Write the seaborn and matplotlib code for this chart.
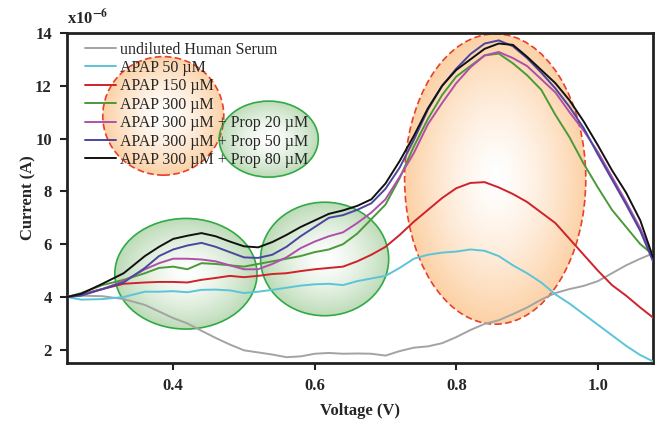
import numpy as np
import pandas as pd
import matplotlib
matplotlib.use("Agg")
import matplotlib.pyplot as plt
from matplotlib.patches import Ellipse
import seaborn as sns

# voltage grid (V)
voltage = [0.25, 0.27, 0.30, 0.33, 0.36, 0.38, 0.40, 0.42, 0.44, 0.46, 0.48,
           0.50, 0.52, 0.54, 0.56, 0.58, 0.60, 0.62, 0.64, 0.66, 0.68, 0.70,
           0.72, 0.74, 0.76, 0.78, 0.80, 0.82, 0.84, 0.86, 0.88, 0.90, 0.92,
           0.94, 0.96, 0.98, 1.00, 1.02, 1.04, 1.06, 1.078]

# currents, in units of 1e-6 A
serum = [4.0, 4.05, 4.03, 3.92, 3.7, 3.45, 3.2, 3.0, 2.72, 2.45, 2.2,
         1.98, 1.9, 1.82, 1.72, 1.75, 1.85, 1.88, 1.85, 1.86, 1.85, 1.78,
         1.95, 2.08, 2.13, 2.25, 2.48, 2.75, 2.98, 3.12, 3.35, 3.6, 3.9,
         4.15, 4.3, 4.42, 4.6, 4.9, 5.2, 5.45, 5.65]
apap50 = [4.0, 3.9, 3.92, 4.0, 4.2, 4.2, 4.22, 4.18, 4.27, 4.28, 4.25,
          4.15, 4.2, 4.27, 4.35, 4.43, 4.48, 4.5, 4.45, 4.6, 4.7, 4.8,
          5.1, 5.45, 5.6, 5.68, 5.72, 5.8, 5.75, 5.55, 5.2, 4.9, 4.55,
          4.1, 3.75, 3.35, 2.95, 2.55, 2.15, 1.8, 1.56]
apap150 = [4.0, 4.1, 4.3, 4.5, 4.55, 4.57, 4.57, 4.55, 4.65, 4.72, 4.8,
           4.75, 4.8, 4.87, 4.9, 4.98, 5.05, 5.1, 5.15, 5.35, 5.6, 5.9,
           6.35, 6.85, 7.3, 7.75, 8.12, 8.32, 8.35, 8.15, 7.9, 7.6, 7.2,
           6.8, 6.2, 5.6, 5.0, 4.45, 4.05, 3.6, 3.22]
apap300 = [4.0, 4.15, 4.45, 4.65, 4.9, 5.1, 5.15, 5.05, 5.28, 5.25, 5.2,
           5.15, 5.25, 5.35, 5.45, 5.55, 5.7, 5.8, 6.0, 6.4, 6.95, 7.5,
           8.5, 9.7, 10.75, 11.65, 12.35, 12.75, 13.15, 13.22, 12.85, 12.4, 11.85,
           10.9, 10.05, 9.05, 8.15, 7.3, 6.65, 6.0, 5.6]
prop20 = [4.0, 4.08, 4.3, 4.6, 5.05, 5.28, 5.45, 5.45, 5.42, 5.35, 5.2,
          5.05, 5.05, 5.25, 5.5, 5.85, 6.1, 6.3, 6.45, 6.8, 7.2, 7.7,
          8.55, 9.45, 10.55, 11.35, 12.1, 12.7, 13.15, 13.28, 13.05, 12.75, 12.25,
          11.75, 11.0, 10.3, 9.5, 8.55, 7.6, 6.6, 5.5]
prop50 = [4.0, 4.05, 4.3, 4.55, 5.1, 5.55, 5.8, 5.95, 6.05, 5.9, 5.7,
          5.5, 5.48, 5.6, 5.9, 6.3, 6.65, 7.0, 7.1, 7.3, 7.55, 8.1,
          8.9, 9.95, 11.1, 12.0, 12.65, 13.2, 13.6, 13.72, 13.5, 13.05, 12.5,
          11.9, 11.2, 10.4, 9.4, 8.45, 7.5, 6.5, 5.35]
prop80 = [4.0, 4.12, 4.5, 4.9, 5.55, 5.9, 6.2, 6.32, 6.42, 6.3, 6.1,
          5.92, 5.88, 6.08, 6.35, 6.65, 6.9, 7.15, 7.28, 7.45, 7.7, 8.3,
          9.15, 10.1, 11.15, 12.0, 12.6, 13.0, 13.4, 13.6, 13.55, 13.1, 12.6,
          12.1, 11.45, 10.65, 9.75, 8.8, 7.95, 6.9, 5.5]

labels = ["undiluted Human Serum", "APAP 50 µM", "APAP 150 µM", "APAP 300 µM",
          "APAP 300 µM + Prop 20 µM", "APAP 300 µM + Prop 50 µM",
          "APAP 300 µM + Prop 80 µM"]
series = [serum, apap50, apap150, apap300, prop20, prop50, prop80]
colors = ["#a3a3a3", "#5bc5d8", "#d0222a", "#4a9a3a", "#b04fab", "#4b46a0", "#111111"]

rows = []
for lab, vals in zip(labels, series):
    for v, c in zip(voltage, vals):
        rows.append({"Voltage": v, "Current": c, "Serie": lab})
df = pd.DataFrame(rows)

sns.set_theme(style="ticks")
plt.rcParams['font.family'] = ['Liberation Serif', 'DejaVu Serif']
plt.rcParams['mathtext.fontset'] = 'stix'


def gradient_ellipse(ax, cx, cy, w, h, edge_rgb, line_color, ls):
    ell = Ellipse((cx, cy), w, h, fc='none', ec=line_color, ls=ls, lw=1.2, zorder=2)
    ax.add_patch(ell)
    n = 200
    u = np.linspace(-1, 1, n)
    U, V = np.meshgrid(u, u)
    r = np.clip(np.sqrt(U ** 2 + V ** 2), 0, 1)
    t = (r ** 1.4)[..., None]
    img = (1 - t) * np.ones(3) + t * np.array(edge_rgb)
    im = ax.imshow(img, extent=(cx - w / 2, cx + w / 2, cy - h / 2, cy + h / 2),
                   origin='lower', aspect='auto', zorder=1, interpolation='bilinear')
    im.set_clip_path(ell)


fig = plt.figure(figsize=(6.65, 4.24), dpi=100)
ax = fig.add_axes([0.1008, 0.1439, 0.8812, 0.7783])

orange = (0.99, 0.82, 0.65)
green = (0.74, 0.86, 0.72)
# highlight regions
gradient_ellipse(ax, 0.386, 10.86, 0.171, 4.49, orange, "#e8402a", (0, (4, 2)))
gradient_ellipse(ax, 0.535, 9.98, 0.140, 2.88, green, "#2faa45", "-")
gradient_ellipse(ax, 0.418, 4.88, 0.201, 4.19, green, "#2faa45", "-")
gradient_ellipse(ax, 0.614, 5.44, 0.181, 4.30, green, "#2faa45", "-")
gradient_ellipse(ax, 0.855, 8.47, 0.256, 11.0, orange, "#e8402a", (0, (4, 2)))

sns.lineplot(data=df, x="Voltage", y="Current", hue="Serie", hue_order=labels,
             palette=colors, linewidth=1.4, ax=ax, zorder=3, legend=True)

ax.set_xlim(0.25, 1.078)
ax.set_ylim(1.5, 14)
ax.set_xticks([0.4, 0.6, 0.8, 1.0])
ax.set_xticklabels(["0.4", "0.6", "0.8", "1.0"])
ax.set_yticks([2, 4, 6, 8, 10, 12, 14])
ax.tick_params(axis='both', direction='out', length=5, width=1.5, labelsize=12,
               color="#222222", pad=6)
for lbl in ax.get_xticklabels() + ax.get_yticklabels():
    lbl.set_fontweight('bold')
for sp in ax.spines.values():
    sp.set_visible(True)
    sp.set_linewidth(2)
    sp.set_color("#222222")

ax.set_xlabel("Voltage (V)", fontsize=12, fontweight='bold', labelpad=6)
ax.set_ylabel("Current (A)", fontsize=12, fontweight='bold', labelpad=-1)
ax.text(0.0, 1.015, r"x10$^{\mathbf{-6}}$", transform=ax.transAxes, fontsize=12,
        fontweight='bold', ha='left', va='bottom')

ax.legend(loc='upper left', bbox_to_anchor=(0.012, 1.008), frameon=False,
          fontsize=11.5, handlelength=1.9, handletextpad=0.3, labelspacing=0.15,
          borderaxespad=0.3)

fig.savefig("out.png", dpi=100)
